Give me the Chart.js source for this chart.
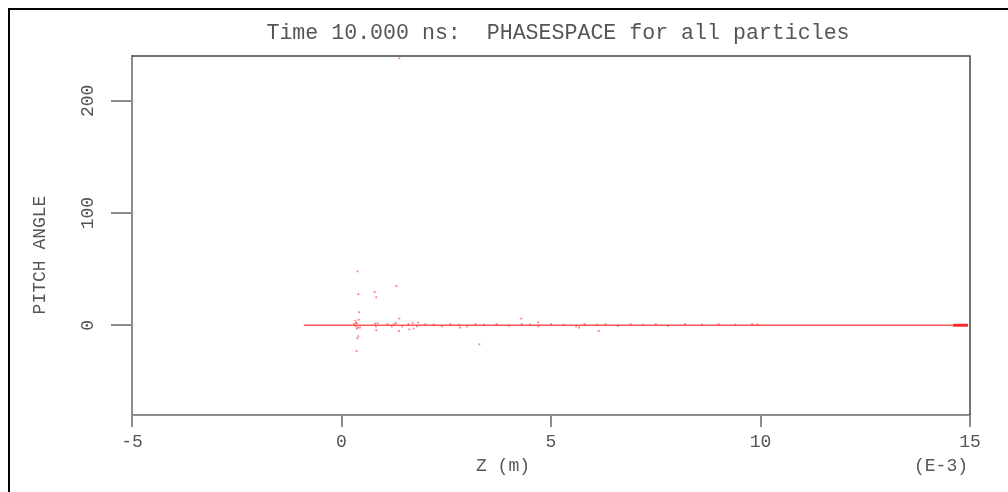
<!DOCTYPE html>
<html>
<head>
<meta charset="utf-8">
<script src="https://cdn.jsdelivr.net/npm/chart.js@4"></script>
<style>
  html, body { margin: 0; padding: 0; background: #fff; }
  #wrap { width: 1008px; height: 492px; position: relative; }
</style>
</head>
<body>
<div id="wrap"><canvas id="phaseChart" width="1008" height="492"></canvas></div>
<script>
// Axis setup (Z in E-3 m, pitch angle in degrees)
const zTicks = [-5, 0, 5, 10, 15];
const pitchTicks = [0, 100, 200];

// the bulk of the particles sit on pitch = 0
const beamZ = [-0.9, 14.95];
const beamPitch = [0, 0];

// dense packet at the far end
const tailZ = [14.6, 14.95];
const tailPitch = [0, 0];

// scattered particles
const scatZ = [0.38, 0.40, 0.42, 0.79, 0.83, 1.31, 1.38, 0.38, 0.40, 0.36, 4.29, 3.29, 4.69,
  0.33, 0.35, 0.37, 0.41, 0.44, 0.83, 1.37, 1.62, 1.72, 1.83, 2.83, 5.67, 6.14, 1.38,
  0.30, 0.34, 0.36, 0.39, 0.80, 0.82, 0.86, 1.10, 1.20, 1.25, 1.30, 1.45, 1.60, 1.70,
  1.80, 2.00, 2.20, 2.40, 2.60, 2.80, 3.00, 3.20, 3.40, 3.70, 4.00, 4.30, 4.50, 4.70,
  5.00, 5.30, 5.60, 5.80, 6.10, 6.30, 6.60, 6.90, 7.20, 7.50, 7.80, 8.20, 8.60, 9.00,
  9.40, 9.80, 9.93];
const scatPitch = [48, 27.7, 11.6, 29.5, 25, 35, 6, -11.6, -9.8, -23, 6, -17, 2.5,
  4, 2, -3, 5, -2, -4.5, -5, -3.7, -2.9, 2.5, -2, -2, -5, 238,
  1, -1, 2, -2, 1.5, -1, 2, 1, -1, 1, 2, -1, 1, 2,
  -1, 1, 0.5, -1, 1, 0.5, -1, 1, 0.5, 1, -0.5, 1, 0.5, -1,
  1, 0.5, -1, 1, 0.5, 1, -0.5, 1, 0.5, 1, -0.5, 1, 0.5, 1,
  0.5, 1, 0.5];

const monoFont = '"Liberation Mono", "DejaVu Sans Mono", monospace';
const textColor = '#555';
const axisColor = '#8c8c8c';

function toPoints(xs, ys) {
  return xs.map((x, i) => ({ x: x, y: ys[i] }));
}

// frame, titles and rotated y labels
const decorPlugin = {
  id: 'decor',
  beforeDraw(chart) {
    const ctx = chart.ctx;
    ctx.save();
    ctx.strokeStyle = '#000';
    ctx.lineWidth = 2;
    ctx.beginPath();
    ctx.moveTo(9, 492);
    ctx.lineTo(9, 9);
    ctx.lineTo(1008, 9);
    ctx.stroke();
    ctx.restore();
  },
  afterDraw(chart) {
    const ctx = chart.ctx;
    const a = chart.chartArea;
    const yScale = chart.scales.y;
    ctx.save();
    // top and right edges of the plot box
    ctx.strokeStyle = '#444';
    ctx.lineWidth = 1.5;
    ctx.beginPath();
    ctx.moveTo(a.left, a.top);
    ctx.lineTo(a.right, a.top);
    ctx.lineTo(a.right, a.bottom);
    ctx.stroke();

    ctx.fillStyle = textColor;
    ctx.textBaseline = 'middle';
    ctx.textAlign = 'center';
    ctx.font = '21.6px ' + monoFont;
    ctx.fillText('Time 10.000 ns:  PHASESPACE for all particles', 558, 33);

    ctx.font = '18px ' + monoFont;
    ctx.fillText('Z (m)', 503, 466);
    ctx.textAlign = 'right';
    ctx.fillText('(E-3)', 968, 466);

    // rotated y tick labels
    ctx.textAlign = 'center';
    yScale.ticks.forEach(t => {
      const py = yScale.getPixelForValue(t.value);
      ctx.save();
      ctx.translate(88, py);
      ctx.rotate(-Math.PI / 2);
      ctx.fillText(String(t.value), 0, 0);
      ctx.restore();
    });

    ctx.save();
    ctx.translate(40, 255);
    ctx.rotate(-Math.PI / 2);
    ctx.fillText('PITCH ANGLE', 0, 0);
    ctx.restore();
    ctx.restore();
  }
};

new Chart(document.getElementById('phaseChart'), {
  type: 'scatter',
  data: {
    datasets: [
      {
        label: 'beam',
        type: 'line',
        data: toPoints(beamZ, beamPitch),
        borderColor: 'rgba(255,30,30,0.75)',
        borderWidth: 1.5,
        pointRadius: 0,
        fill: false
      },
      {
        label: 'tail',
        type: 'line',
        data: toPoints(tailZ, tailPitch),
        borderColor: 'rgba(255,30,30,0.9)',
        borderWidth: 3,
        pointRadius: 0,
        fill: false
      },
      {
        label: 'particles',
        data: toPoints(scatZ, scatPitch),
        backgroundColor: 'rgba(255,0,0,0.5)',
        borderWidth: 0,
        pointStyle: 'rect',
        pointRadius: 1.3
      }
    ]
  },
  options: {
    responsive: false,
    animation: false,
    events: [],
    layout: { padding: { left: 0, right: 38, top: 56, bottom: 0 } },
    plugins: {
      legend: { display: false },
      tooltip: { enabled: false },
      title: { display: false }
    },
    scales: {
      x: {
        type: 'linear',
        min: -5,
        max: 15,
        afterBuildTicks: s => { s.ticks = zTicks.map(v => ({ value: v })); },
        afterFit: s => { s.height = 77; },
        grid: { drawOnChartArea: false, drawTicks: true, tickLength: 12, color: axisColor, lineWidth: 2 },
        border: { color: axisColor, width: 2 },
        ticks: { color: textColor, font: { family: monoFont, size: 18 }, padding: 4, maxRotation: 0 }
      },
      y: {
        type: 'linear',
        min: -80,
        max: 240,
        afterBuildTicks: s => { s.ticks = pitchTicks.map(v => ({ value: v })); },
        afterFit: s => { s.width = 132; },
        grid: { drawOnChartArea: false, drawTicks: true, tickLength: 21, color: axisColor, lineWidth: 2 },
        border: { color: axisColor, width: 2 },
        ticks: { color: 'rgba(0,0,0,0)', font: { family: monoFont, size: 18 } }
      }
    }
  },
  plugins: [decorPlugin]
});
</script>
</body>
</html>
